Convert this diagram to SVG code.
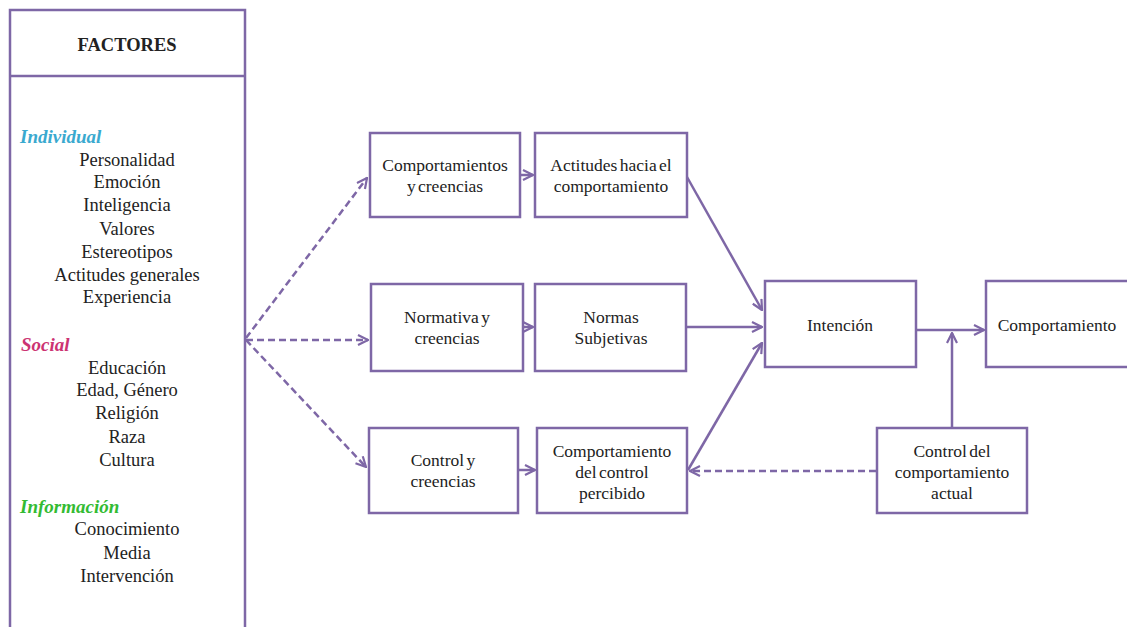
<svg xmlns="http://www.w3.org/2000/svg" width="1127" height="627" viewBox="0 0 1127 627">
<defs>
<marker id="ah" viewBox="0 0 12 12" refX="11" refY="6" markerWidth="12" markerHeight="12" markerUnits="userSpaceOnUse" orient="auto">
<path d="M1,1 L11,6 L1,11" fill="none" stroke="#7e67a6" stroke-width="2.2"/>
</marker>
</defs>
<style>
.box{fill:#fff;stroke:#7e67a6;stroke-width:2.5}
text{font-family:'Liberation Serif','DejaVu Serif',serif}
.t{font-size:17.5px;fill:#222;text-anchor:middle;word-spacing:-2px}
.f{font-size:18.5px;fill:#222;text-anchor:middle}
.h{font-size:19px;font-style:italic;font-weight:bold}
.c{fill:none;stroke:#7e67a6;stroke-width:2.5;marker-end:url(#ah)}
.d{stroke-dasharray:7,4}
</style>
<rect width="1127" height="627" fill="#fff"/>
<g id="factores">
<path class="box" d="M10,640 L10,10 L245,10 L245,640"/>
<line x1="10" y1="76" x2="245" y2="76" stroke="#7e67a6" stroke-width="2.5"/>
<text x="127" y="51" class="f" font-weight="bold" font-size="16.5px">FACTORES</text>
<text x="20" y="143" class="h" fill="#3aa9cf">Individual</text>
<text x="127" y="166" class="f">Personalidad</text>
<text x="127" y="188" class="f">Emoción</text>
<text x="127" y="211" class="f">Inteligencia</text>
<text x="127" y="235" class="f">Valores</text>
<text x="127" y="258" class="f">Estereotipos</text>
<text x="127" y="281" class="f">Actitudes  generales</text>
<text x="127" y="303" class="f">Experiencia</text>
<text x="21" y="351" class="h" fill="#cc3372">Social</text>
<text x="127" y="374" class="f">Educación</text>
<text x="127" y="396" class="f">Edad,  Género</text>
<text x="127" y="419" class="f">Religión</text>
<text x="127" y="443" class="f">Raza</text>
<text x="127" y="466" class="f">Cultura</text>
<text x="20" y="513" class="h" fill="#33bb33">Información</text>
<text x="127" y="535" class="f">Conocimiento</text>
<text x="127" y="559" class="f">Media</text>
<text x="127" y="582" class="f">Intervención</text>
</g>
<g id="n1"><rect class="box" x="370" y="133" width="150" height="84"/>
<text class="t" x="445" y="171">Comportamientos</text><text class="t" x="445" y="192">y creencias</text></g>
<g id="n2"><rect class="box" x="535" y="133" width="152" height="84"/>
<text class="t" x="611" y="171">Actitudes hacia el</text><text class="t" x="611" y="192">comportamiento</text></g>
<g id="n3"><rect class="box" x="371" y="284" width="152" height="87"/>
<text class="t" x="447" y="323">Normativa y</text><text class="t" x="447" y="344">creencias</text></g>
<g id="n4"><rect class="box" x="535" y="284" width="151" height="87"/>
<text class="t" x="611" y="323">Normas</text><text class="t" x="611" y="344">Subjetivas</text></g>
<g id="n5"><rect class="box" x="765" y="281" width="151" height="86"/>
<text class="t" x="840" y="331">Intención</text></g>
<g id="n6"><rect class="box" x="986" y="281" width="160" height="86"/>
<text class="t" x="1057" y="331">Comportamiento</text></g>
<g id="n7"><rect class="box" x="369" y="428" width="149" height="85"/>
<text class="t" x="443" y="466">Control y</text><text class="t" x="443" y="487">creencias</text></g>
<g id="n8"><rect class="box" x="537" y="428" width="150" height="85"/>
<text class="t" x="612" y="457">Comportamiento</text><text class="t" x="612" y="478">del control</text><text class="t" x="612" y="499">percibido</text></g>
<g id="n9"><rect class="box" x="877" y="428" width="150" height="85"/>
<text class="t" x="952" y="457">Control del</text><text class="t" x="952" y="478">comportamiento</text><text class="t" x="952" y="499">actual</text></g>
<g id="connectors">
<line class="c d" x1="246" y1="338" x2="367" y2="178"/>
<line class="c d" x1="246" y1="340" x2="368" y2="340"/>
<line class="c d" x1="246" y1="340" x2="366" y2="467"/>
<line class="c" x1="520" y1="175" x2="533" y2="175"/>
<line class="c" x1="523" y1="327" x2="533" y2="327"/>
<line class="c" x1="518" y1="470" x2="535" y2="470"/>
<line class="c" x1="687" y1="177" x2="762" y2="310"/>
<line class="c" x1="686" y1="327" x2="762" y2="327"/>
<line class="c" x1="688" y1="470" x2="762" y2="343"/>
<line class="c" x1="916" y1="330" x2="984" y2="330"/>
<line class="c" x1="952" y1="428" x2="952" y2="333"/>
<line class="c d" x1="876" y1="471" x2="690" y2="471"/>
</g>
</svg>
